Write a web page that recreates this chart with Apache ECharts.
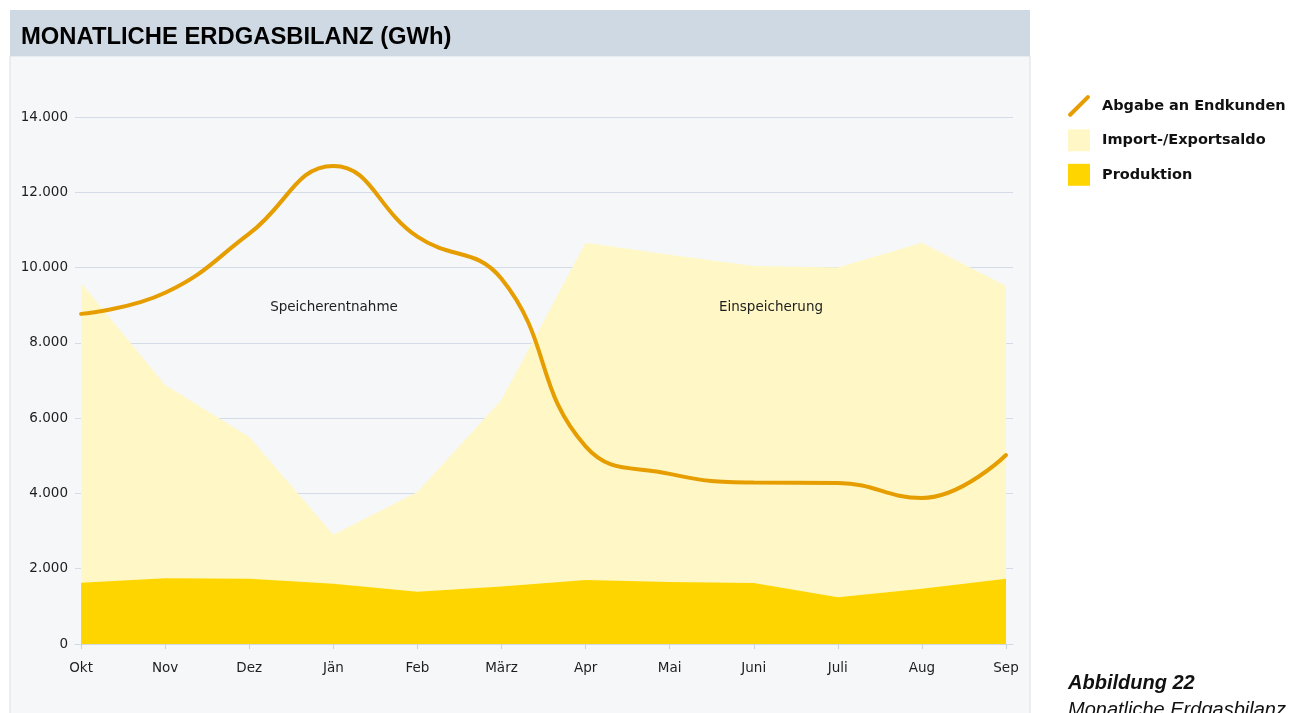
<!DOCTYPE html>
<html>
<head>
<meta charset="utf-8">
<script src="https://cdn.jsdelivr.net/npm/echarts@6/dist/echarts.min.js"></script>
<style>
html,body{margin:0;padding:0;background:#ffffff;}
#chart{width:1298px;height:713px;}
</style>
</head>
<body>
<div id="chart"></div>
<script>
// ---- Data (GWh) ----
const monate = ['Okt','Nov','Dez','Jän','Feb','März','Apr','Mai','Juni','Juli','Aug','Sep'];
const produktion = [1630, 1750, 1735, 1600, 1390, 1530, 1700, 1650, 1620, 1240, 1470, 1735];
const importSaldo = [7960, 5130, 3765, 1300, 2650, 4960, 8960, 8690, 8420, 8760, 9190, 7775];
const abgabeEndkunden = [8770, 9330, 10900, 12700, 10820, 9700, 5250, 4520, 4290, 4280, 3880, 5020];
const yTicks = [0, 2000, 4000, 6000, 8000, 10000, 12000, 14000];

const chart = echarts.init(document.getElementById('chart'), null, {renderer: 'canvas'});

const fmtDE = v => v === 0 ? '0' : String(Math.round(v / 1000)) + '.000';
const idx = monate.map((m, i) => i);
const prodData = produktion.map((v, i) => [i, v]);
const importTop = importSaldo.map((v, i) => [i, produktion[i] + v]);
const lineData = abgabeEndkunden.map((v, i) => [i, v]);

const FONT = '"DejaVu Sans", Verdana, sans-serif';

const option = {
  backgroundColor: '#ffffff',
  animation: false,
  graphic: [
    { type: 'rect', z: -10, shape: { x: 10, y: 56, width: 1020, height: 680 },
      style: { fill: '#f5f7f9', stroke: '#d9e1ea', lineWidth: 1 } },
    { type: 'rect', z: -10, shape: { x: 10, y: 10, width: 1020, height: 46 },
      style: { fill: '#cfd9e3' } },
    { type: 'text', z: 10, left: 21, top: 25,
      style: { text: 'MONATLICHE ERDGASBILANZ (GWh)', fill: '#000000',
        font: 'bold 23.8px "Liberation Sans", Arial, sans-serif' } },
    { type: 'text', z: 10, x: 334, y: 307,
      style: { text: 'Speicherentnahme', fill: '#1e1e1e', align: 'center', verticalAlign: 'middle',
        font: '13.5px ' + FONT } },
    { type: 'text', z: 10, x: 771, y: 307,
      style: { text: 'Einspeicherung', fill: '#1e1e1e', align: 'center', verticalAlign: 'middle',
        font: '13.5px ' + FONT } },
    { type: 'text', z: 10, x: 1068, y: 683,
      style: { text: 'Abbildung 22', fill: '#111111', verticalAlign: 'middle',
        font: 'italic bold 20px "Liberation Sans", Arial, sans-serif' } },
    { type: 'text', z: 10, x: 1068, y: 710,
      style: { text: 'Monatliche Erdgasbilanz', fill: '#111111', verticalAlign: 'middle',
        font: 'italic 20px "Liberation Sans", Arial, sans-serif' } }
  ],
  legend: {
    orient: 'vertical',
    left: 1068,
    top: 95,
    padding: 0,
    itemWidth: 22,
    itemHeight: 22,
    itemGap: 12.5,
    selectedMode: false,
    itemStyle: { borderWidth: 0 },
    textStyle: { color: '#111111', fontWeight: 'bold', fontSize: 14.5, fontFamily: FONT,
      padding: [0, 0, 0, 7] },
    data: [
      { name: 'Abgabe an Endkunden', icon: 'path://M0,19 L19,0 Q20.5,-1 22,0.5 Q23,2 22,3 L3,22 Q1.5,23 0,21.5 Q-1,20 0,19 Z' },
      { name: 'Import-/Exportsaldo', icon: 'rect' },
      { name: 'Produktion', icon: 'rect' }
    ]
  },
  grid: { left: 75, right: 285, top: 117, bottom: 69, containLabel: false },
  xAxis: {
    type: 'value',
    min: -0.072,
    max: 11.083,
    splitLine: { show: false },
    axisLine: { show: true, lineStyle: { color: '#d0d9e4', width: 1 } },
    axisTick: { show: true, customValues: idx, length: 5, lineStyle: { color: '#c9d3df' } },
    axisLabel: { customValues: idx, margin: 17, color: '#1e1e1e', fontSize: 13.5, fontFamily: FONT,
      formatter: v => monate[Math.round(v)] }
  },
  yAxis: {
    type: 'value',
    min: 0,
    max: 14000,
    interval: 2000,
    axisLine: { show: false },
    axisTick: { show: false },
    splitLine: { show: true, lineStyle: { color: '#d3dce7', width: 1 } },
    axisLabel: { margin: 7, color: '#1e1e1e', fontSize: 13.5, fontFamily: FONT,
      formatter: v => yTicks.indexOf(v) >= 0 ? fmtDE(v) : '' }
  },
  series: [
    {
      name: 'Import-/Exportsaldo',
      type: 'line',
      z: 1,
      data: importTop,
      symbol: 'none',
      itemStyle: { color: '#fff8c6' },
      lineStyle: { width: 0, color: '#fff8c6' },
      areaStyle: { color: '#fff8c6', opacity: 1 }
    },
    {
      name: 'Produktion',
      type: 'line',
      z: 2,
      data: prodData,
      symbol: 'none',
      itemStyle: { color: '#ffd500' },
      lineStyle: { width: 0, color: '#ffd500' },
      areaStyle: { color: '#ffd500', opacity: 1 }
    },
    {
      name: 'Abgabe an Endkunden',
      type: 'line',
      z: 3,
      data: lineData,
      symbol: 'none',
      smooth: 0.45,
      itemStyle: { color: '#e69d00' },
      lineStyle: { width: 4, color: '#e69d00', cap: 'round' }
    }
  ]
};
chart.setOption(option);
</script>
</body>
</html>
